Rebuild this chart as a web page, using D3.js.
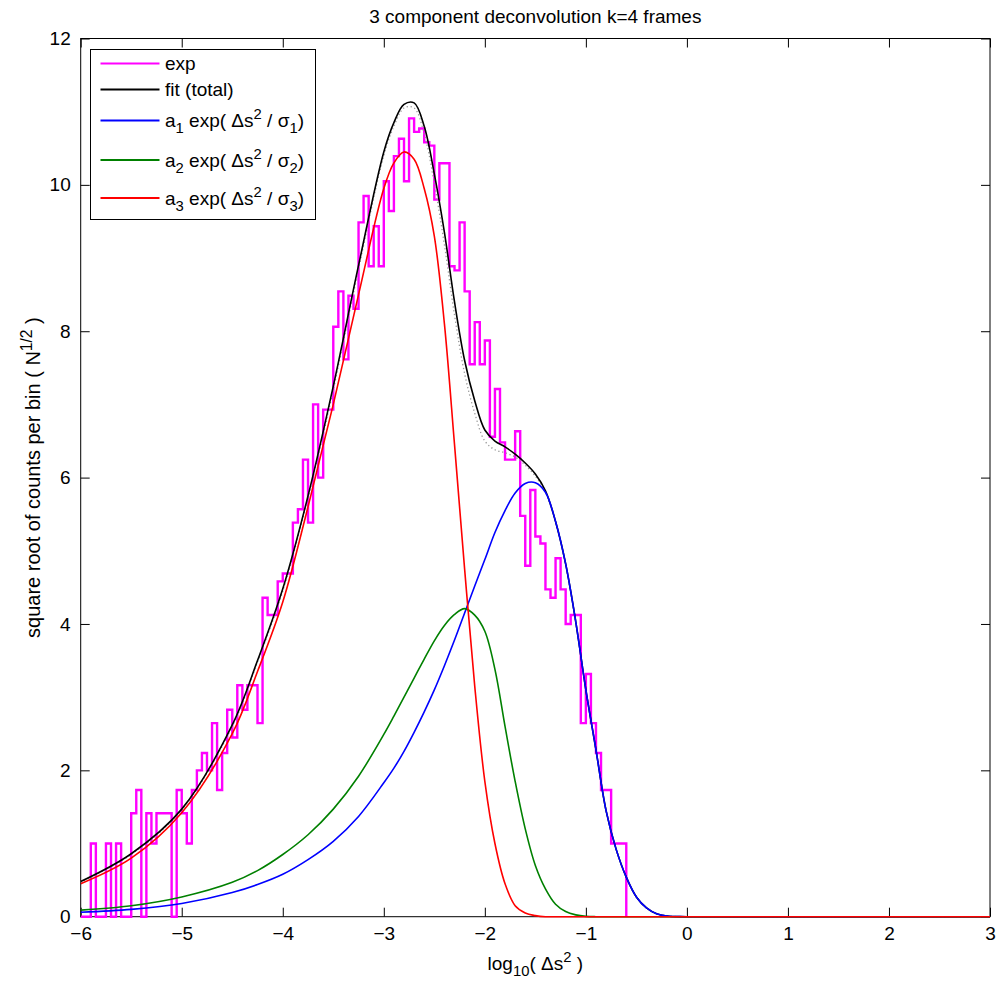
<!DOCTYPE html>
<html>
<head>
<meta charset="utf-8">
<script src="https://cdn.jsdelivr.net/npm/d3@7"></script>
<style>
  body { margin: 0; background: #fff; }
  text { font-family: "Liberation Sans", Arial, Helvetica, sans-serif; fill: #000; }
</style>
</head>
<body>
<svg id="chart" width="1007" height="981"></svg>
<script>
// histogram of log10(ds^2), bins of 0.05 starting at -6 (counts per bin)
const binStart = -6;
const binWidth = 0.05;
const binCounts = [
  0, 0, 1, 0, 0, 1, 0, 1, 0, 0,
  2, 3, 0, 2, 1, 2, 2, 2, 0, 3,
  2, 1, 3, 4, 5, 4, 7, 3, 5, 8,
  6, 10, 8, 10, 10, 7, 19, 17, 17, 21,
  22, 22, 29, 31, 39, 29, 49, 36, 48, 48,
  65, 73, 58, 72, 69, 90, 97, 79, 89, 79,
  101, 93, 108, 113, 101, 119, 115, 116, 112, 111,
  96, 106, 106, 79, 78, 90, 73, 57, 66, 57,
  62, 43, 52, 42, 39, 39, 44, 30, 23, 34,
  27, 26, 20, 19, 24, 20, 16, 17, 17, 7,
  11, 7, 5, 3, 3, 1, 1, 1
];

const curveX = [-6, -5.5, -5, -4.5, -4.25, -4, -3.75, -3.5, -3.25, -3,
  -2.9, -2.8, -2.7, -2.6, -2.5, -2.4, -2.3, -2.2, -2.1, -2,
  -1.9, -1.8, -1.7, -1.6, -1.5, -1.4, -1.3, -1.2, -1.1, -1,
  -0.9, -0.8, -0.7, -0.6, -0.5, -0.4, -0.3, -0.2, 0, 3];
const fitTotal = [0.48, 0.86, 1.47, 2.62, 3.5, 4.48, 5.75, 7.25, 8.9, 10.45,
  10.85, 11.1, 11.12, 10.8, 10.15, 9.35, 8.4, 7.6, 7.05, 6.65,
  6.5, 6.42, 6.32, 6.2, 6.05, 5.82, 5.4, 4.82, 4.03, 3.1,
  2.28, 1.45, 0.92, 0.54, 0.27, 0.12, 0.04, 0.01, 0, 0];
// faint dotted copy of the total fit seen just under the black curve
const fitDotted = [0.47, 0.85, 1.46, 2.6, 3.48, 4.45, 5.72, 7.2, 8.85, 10.4,
  10.8, 11.05, 11.05, 10.7, 10.02, 9.18, 8.22, 7.42, 6.88, 6.5,
  6.38, 6.34, 6.28, 6.17, 6.02, 5.8, 5.39, 4.81, 4.02, 3.1,
  2.28, 1.45, 0.92, 0.54, 0.27, 0.12, 0.04, 0.01, 0, 0];
const comp1 = [0.06, 0.10, 0.18, 0.33, 0.44, 0.58, 0.78, 1.03, 1.37, 1.83,
  2.03, 2.26, 2.52, 2.8, 3.1, 3.43, 3.78, 4.15, 4.52, 4.88,
  5.25, 5.55, 5.79, 5.92, 5.93, 5.8, 5.4, 4.82, 4.03, 3.1,
  2.28, 1.45, 0.92, 0.54, 0.27, 0.12, 0.04, 0.01, 0, 0];
const comp2 = [0.09, 0.15, 0.27, 0.47, 0.63, 0.85, 1.12, 1.47, 1.92, 2.49,
  2.74, 3.0, 3.26, 3.52, 3.77, 3.98, 4.13, 4.21, 4.12, 3.9,
  3.38, 2.6, 1.85, 1.2, 0.7, 0.38, 0.17, 0.07, 0.025, 0.005,
  0, 0, 0, 0, 0, 0, 0, 0, 0, 0];
const comp3 = [0.45, 0.80, 1.42, 2.5, 3.35, 4.3, 5.6, 7.0, 8.5, 9.95,
  10.3, 10.45, 10.35, 9.95, 9.3, 8.1, 6.45, 4.75, 3.15, 1.85,
  1.0, 0.45, 0.15, 0.05, 0.015, 0, 0, 0, 0, 0,
  0, 0, 0, 0, 0, 0, 0, 0, 0, 0];

const xTicks = [-6, -5, -4, -3, -2, -1, 0, 1, 2, 3];
const yTicks = [0, 2, 4, 6, 8, 10, 12];

const legendItems = [
  {color: "#ff00ff", parts: [["exp", ""]]},
  {color: "#000000", parts: [["fit (total)", ""]]},
  {color: "#0000ff", parts: [["a", ""], ["1", "sub"], [" exp( \u0394s", ""], ["2", "sup"], [" / \u03c3", ""], ["1", "sub"], [")", ""]]},
  {color: "#008000", parts: [["a", ""], ["2", "sub"], [" exp( \u0394s", ""], ["2", "sup"], [" / \u03c3", ""], ["2", "sub"], [")", ""]]},
  {color: "#ff0000", parts: [["a", ""], ["3", "sub"], [" exp( \u0394s", ""], ["2", "sup"], [" / \u03c3", ""], ["3", "sub"], [")", ""]]}
];

const svg = d3.select("#chart");
const fontSize = 19;

const x = d3.scaleLinear().domain([-6, 3]).range([80.7, 990]);
const y = d3.scaleLinear().domain([0, 12]).range([916.7, 38.5]);

// write text with sub / superscript pieces
function richText(sel, parts, size) {
  let shift = 0;
  parts.forEach(([t, kind]) => {
    const target = kind === "sub" ? 6 : kind === "sup" ? -8 : 0;
    sel.append("tspan")
      .attr("dy", target - shift)
      .style("font-size", kind ? (size * 0.78) + "px" : size + "px")
      .text(t);
    shift = target;
  });
}

// axes (ticks inside, MATLAB style)
const gx = svg.append("g")
  .attr("transform", `translate(0,${y(0)})`)
  .call(d3.axisBottom(x).tickValues(xTicks).tickSizeInner(-9).tickSizeOuter(0).tickPadding(10));
const gy = svg.append("g")
  .attr("transform", `translate(${x(-6)},0)`)
  .call(d3.axisLeft(y).tickValues(yTicks).tickSizeInner(-9).tickSizeOuter(0).tickPadding(10));
const gxTop = svg.append("g")
  .attr("transform", `translate(0,${y(12)})`)
  .call(d3.axisTop(x).tickValues(xTicks).tickSizeInner(-9).tickSizeOuter(0).tickFormat(""));
const gyRight = svg.append("g")
  .attr("transform", `translate(${x(3)},0)`)
  .call(d3.axisRight(y).tickValues(yTicks).tickSizeInner(-9).tickSizeOuter(0).tickFormat(""));

[gx, gy, gxTop, gyRight].forEach(g => {
  g.select(".domain").remove();
  g.selectAll(".tick line").attr("stroke", "#000").attr("stroke-width", 1);
  g.selectAll("text").style("font-size", fontSize + "px").attr("fill", "#000")
    .style("font-family", "'Liberation Sans', Arial, sans-serif");
});

svg.append("rect")
  .attr("x", x(-6)).attr("y", y(12))
  .attr("width", x(3) - x(-6)).attr("height", y(0) - y(12))
  .attr("fill", "none").attr("stroke", "#000").attr("stroke-width", 1);

svg.append("clipPath").attr("id", "plotclip")
  .append("rect")
  .attr("x", x(-6)).attr("y", y(12))
  .attr("width", x(3) - x(-6)).attr("height", y(0) - y(12) + 1.5);

// histogram as stairs
const stairs = binCounts.map((c, i) => [binStart + i * binWidth, Math.sqrt(c)]);
stairs.push([binStart + binCounts.length * binWidth, 0]);

const plot = svg.append("g").attr("clip-path", "url(#plotclip)");
plot.append("path")
  .datum(stairs)
  .attr("fill", "none")
  .attr("stroke", "#ff00ff")
  .attr("stroke-width", 2.4)
  .attr("d", d3.line().x(d => x(d[0])).y(d => y(d[1])).curve(d3.curveStepAfter));

const curveLine = d3.line()
  .x(d => x(d[0])).y(d => y(Math.max(0, d[1])))
  .curve(d3.curveCatmullRom.alpha(0.5));

plot.append("path")
  .datum(curveX.map((u, i) => [u, fitDotted[i]]))
  .attr("fill", "none")
  .attr("stroke", "#999")
  .attr("stroke-width", 1.3)
  .attr("stroke-dasharray", "1.3,2.6")
  .attr("d", curveLine);

[[fitTotal, "#000000"], [comp1, "#0000ff"], [comp2, "#008000"], [comp3, "#ff0000"]]
  .forEach(([vals, color]) => {
    plot.append("path")
      .datum(curveX.map((u, i) => [u, vals[i]]))
      .attr("fill", "none")
      .attr("stroke", color)
      .attr("stroke-width", 1.6)
      .attr("d", curveLine);
  });

// title and axis labels
svg.append("text")
  .attr("x", (x(-6) + x(3)) / 2).attr("y", 23)
  .attr("text-anchor", "middle")
  .style("font-size", fontSize + "px")
  .text("3 component deconvolution k=4 frames");

const xl = svg.append("text")
  .attr("x", (x(-6) + x(3)) / 2).attr("y", 970)
  .attr("text-anchor", "middle");
richText(xl, [["log", ""], ["10", "sub"], ["( \u0394s", ""], ["2", "sup"], [" )", ""]], fontSize);

const yl = svg.append("text")
  .attr("transform", `translate(40,${(y(0) + y(12)) / 2}) rotate(-90)`)
  .attr("text-anchor", "middle");
richText(yl, [["square root of counts per bin ( N", ""], ["1/2", "sup"], [" )", ""]], 20);

// legend
const lg = svg.append("g");
lg.append("rect")
  .attr("x", 90.5).attr("y", 49.5).attr("width", 225).attr("height", 170)
  .attr("fill", "#fff").attr("stroke", "#000").attr("stroke-width", 1);
const rowY = [63.5, 89.5, 120.5, 160, 198];
legendItems.forEach((item, i) => {
  lg.append("line")
    .attr("x1", 100.5).attr("x2", 159.5)
    .attr("y1", rowY[i]).attr("y2", rowY[i])
    .attr("stroke", item.color).attr("stroke-width", 2);
  const t = lg.append("text")
    .attr("x", 165).attr("y", rowY[i] + 6.5);
  richText(t, item.parts, fontSize);
});
</script>
</body>
</html>
